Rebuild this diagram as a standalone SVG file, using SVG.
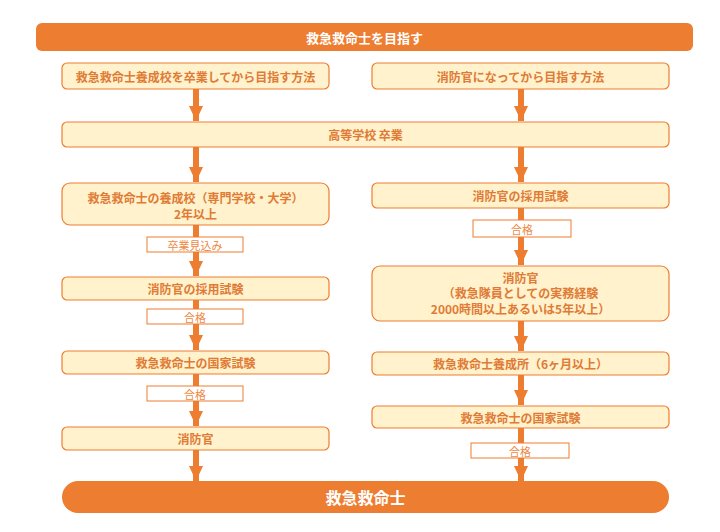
<svg xmlns="http://www.w3.org/2000/svg" width="720" height="532" viewBox="0 0 720 532">
<defs>
<style>
.box{fill:#FFF2CC;stroke:#ED7D31;stroke-width:1.2}
.lbl{fill:#FFFFFF;stroke:#ED7D31;stroke-width:1}
.t{font-family:"Noto Sans CJK JP","Noto Sans",sans-serif;font-size:12px;font-weight:bold;fill:#E07B36;text-anchor:middle;dominant-baseline:central}
.lt{font-family:"Noto Sans CJK JP","Noto Sans",sans-serif;font-size:11px;fill:#EE8A45;text-anchor:middle;dominant-baseline:central}
.w{font-family:"Noto Sans CJK JP","Noto Sans",sans-serif;font-weight:bold;fill:#FFFFFF;text-anchor:middle;dominant-baseline:central}
.c{stroke:#ED7D31;stroke-width:6;fill:none;marker-end:url(#ah)}
</style>
<marker id="ah" markerUnits="userSpaceOnUse" markerWidth="15" markerHeight="14" refX="15" refY="7" orient="auto">
<path d="M0,0 L15,7 L0,14 z" fill="#ED7D31"/>
</marker>
</defs>
<rect width="720" height="532" fill="#FFFFFF"/>

<g id="connectors">
<line class="c" x1="196" y1="89" x2="196" y2="121"/>
<line class="c" x1="196" y1="147" x2="196" y2="182"/>
<line class="c" x1="196" y1="225" x2="196" y2="276"/>
<line class="c" x1="196" y1="300" x2="196" y2="350"/>
<line class="c" x1="196" y1="374" x2="196" y2="426"/>
<line class="c" x1="196" y1="450" x2="196" y2="481"/>
<line class="c" x1="521" y1="89" x2="521" y2="121"/>
<line class="c" x1="521" y1="147" x2="521" y2="182"/>
<line class="c" x1="521" y1="208" x2="521" y2="265"/>
<line class="c" x1="521" y1="321" x2="521" y2="351"/>
<line class="c" x1="521" y1="375" x2="521" y2="405"/>
<line class="c" x1="521" y1="428" x2="521" y2="481"/>
</g>

<g id="title">
<rect x="36" y="23" width="657" height="28" rx="6" fill="#ED7D31"/>
<text class="w" x="364.5" y="37" font-size="13">救急救命士を目指す</text>
</g>

<g id="left-route">
<rect class="box" x="62" y="63" width="267" height="26" rx="5"/>
<text class="t" x="195.5" y="76">救急救命士養成校を卒業してから目指す方法</text>
</g>
<g id="right-route">
<rect class="box" x="372" y="63" width="297" height="26" rx="5"/>
<text class="t" x="520.5" y="76">消防官になってから目指す方法</text>
</g>

<g id="highschool">
<rect class="box" x="62" y="122" width="607" height="25" rx="5"/>
<text class="t" x="365.5" y="134.5">高等学校 卒業</text>
</g>

<g id="left-school">
<rect class="box" x="62" y="183" width="267" height="42" rx="8"/>
<text class="t" x="195.5" y="197">救急救命士の養成校（専門学校・大学）</text>
<text class="t" x="195.5" y="213">2年以上</text>
</g>
<g id="label-mikomi">
<rect class="lbl" x="147" y="237" width="96" height="15"/>
<text class="lt" x="195" y="244.5">卒業見込み</text>
</g>
<g id="left-saiyo">
<rect class="box" x="62" y="277" width="267" height="23" rx="5"/>
<text class="t" x="195.5" y="288.5">消防官の採用試験</text>
</g>
<g id="label-left-goukaku1">
<rect class="lbl" x="147" y="309" width="96" height="15"/>
<text class="lt" x="195" y="316.5">合格</text>
</g>
<g id="left-kokka">
<rect class="box" x="62" y="351" width="267" height="23" rx="5"/>
<text class="t" x="195.5" y="362.5">救急救命士の国家試験</text>
</g>
<g id="label-left-goukaku2">
<rect class="lbl" x="147" y="386" width="96" height="15"/>
<text class="lt" x="195" y="393.5">合格</text>
</g>
<g id="left-shoubou">
<rect class="box" x="62" y="427" width="267" height="23" rx="5"/>
<text class="t" x="195.5" y="438.5">消防官</text>
</g>

<g id="right-saiyo">
<rect class="box" x="372" y="183" width="297" height="25" rx="5"/>
<text class="t" x="520.5" y="195.5">消防官の採用試験</text>
</g>
<g id="label-right-goukaku1">
<rect class="lbl" x="473" y="220" width="98" height="17"/>
<text class="lt" x="522" y="228.5">合格</text>
</g>
<g id="right-shoubou">
<rect class="box" x="372" y="266" width="297" height="55" rx="8"/>
<text class="t" x="520.5" y="277" font-size="11.5">消防官</text>
<text class="t" x="520.5" y="292.5" font-size="11.5">（救急隊員としての実務経験</text>
<text class="t" x="520.5" y="308" font-size="11.5">2000時間以上あるいは5年以上）</text>
</g>
<g id="right-yousei">
<rect class="box" x="372" y="352" width="297" height="23" rx="5"/>
<text class="t" x="520.5" y="363.5">救急救命士養成所（6ヶ月以上）</text>
</g>
<g id="right-kokka">
<rect class="box" x="372" y="406" width="297" height="22" rx="5"/>
<text class="t" x="520.5" y="417">救急救命士の国家試験</text>
</g>
<g id="label-right-goukaku2">
<rect class="lbl" x="471" y="443" width="98" height="15"/>
<text class="lt" x="520" y="450.5">合格</text>
</g>

<g id="goal">
<rect x="62" y="481" width="607" height="32" rx="16" fill="#ED7D31"/>
<text class="w" x="365.5" y="497" font-size="16">救急救命士</text>
</g>
</svg>
